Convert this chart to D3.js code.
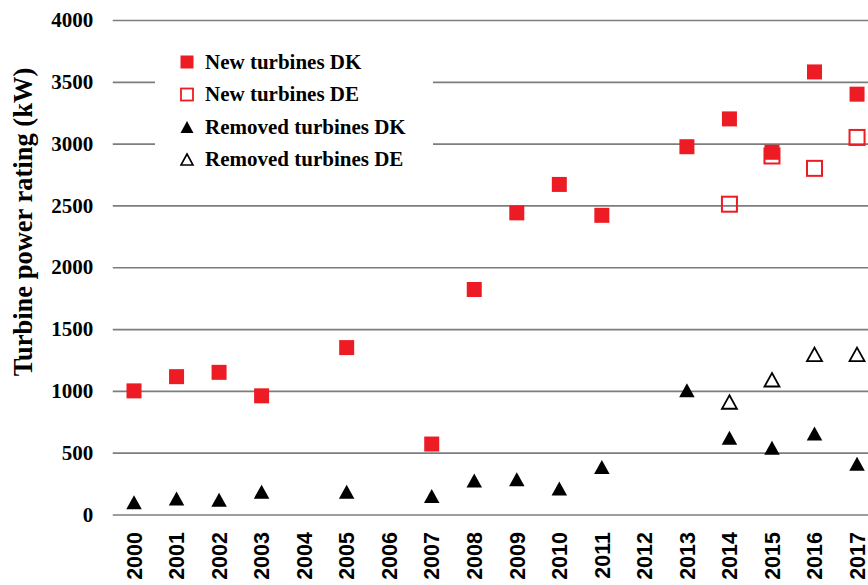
<!DOCTYPE html>
<html>
<head>
<meta charset="utf-8">
<script src="https://cdn.jsdelivr.net/npm/d3@7"></script>
<style>
  html, body { margin: 0; padding: 0; background: #fff; }
  svg { display: block; }
</style>
</head>
<body>
<svg id="chart" width="868" height="585"></svg>
<script>
// Turbine power ratings by year (kW); null = no turbines that year
const years = ["2000","2001","2002","2003","2004","2005","2006","2007","2008",
               "2009","2010","2011","2012","2013","2014","2015","2016","2017"];
const newDK     = [1000, 1115, 1150, 960, null, 1350, null, 570, 1820,
                   2440, 2670, 2420, null, 2975, 3200, 2930, 3580, 3400];
const newDE     = [null, null, null, null, null, null, null, null, null,
                   null, null, null, null, null, 2510, 2900, 2800, 3050];
const removedDK = [100, 130, 120, 185, null, 185, null, 150, 275,
                   285, 210, 385, null, 1005, 620, 540, 655, 410];
const removedDE = [null, null, null, null, null, null, null, null, null,
                   null, null, null, null, null, 910, 1090, 1295, 1295];
const yTicks = [0, 500, 1000, 1500, 2000, 2500, 3000, 3500, 4000];
const legendLabels = ["New turbines DK", "New turbines DE",
                      "Removed turbines DK", "Removed turbines DE"];

const RED = "#ED1C24";
const serif = "'Liberation Serif', 'Times New Roman', serif";
const sans = "'Liberation Sans', Arial, sans-serif";

const svg = d3.select("#chart");
const plotLeft = 112.75, plotRight = 878.3, plotTop = 20, plotBottom = 514.5;

const x = d3.scaleBand().domain(years).range([plotLeft, plotRight]).padding(0);
const y = d3.scaleLinear().domain([0, 4000]).range([plotBottom, plotTop]);
const cx = d => x(d) + x.bandwidth() / 2;

// Horizontal gridlines + y tick labels
const yAxis = svg.append("g")
  .attr("transform", `translate(${plotLeft},0)`)
  .call(d3.axisLeft(y).tickValues(yTicks).tickFormat(d3.format("d"))
        .tickSize(-(868 - plotLeft)).tickPadding(19.5));
yAxis.select(".domain").remove();
yAxis.selectAll(".tick line").attr("stroke", "#7d7d7d").attr("stroke-width", 1.7);
yAxis.selectAll(".tick text")
  .attr("font-family", serif).attr("font-weight", "bold")
  .attr("font-size", 21).attr("fill", "#000");

// Rotated year labels
svg.append("g").selectAll("text").data(years).join("text")
  .attr("transform", d => `translate(${cx(d)},532) rotate(-90)`)
  .attr("text-anchor", "end").attr("dy", "0.36em")
  .attr("font-family", sans).attr("font-weight", "bold").attr("font-size", 21.5)
  .attr("fill", "#000")
  .text(d => d);

// Y axis title
svg.append("text")
  .attr("transform", "translate(32,222) rotate(-90)")
  .attr("text-anchor", "middle")
  .attr("font-family", serif).attr("font-weight", "bold").attr("font-size", 26.5)
  .attr("fill", "#000")
  .text("Turbine power rating (kW)");

// Marker shapes
const SQ = 15;
const triPath = (w, h) => `M0,${-h/2}L${w/2},${h/2}L${-w/2},${h/2}Z`;

const pts = arr => years.map((yr, i) => ({ yr, v: arr[i] })).filter(d => d.v != null);

const marks = svg.append("g");

// New turbines DK: filled red squares
marks.append("g").selectAll("rect").data(pts(newDK)).join("rect")
  .attr("x", d => cx(d.yr) - SQ / 2).attr("y", d => y(d.v) - SQ / 2)
  .attr("width", SQ).attr("height", SQ).attr("fill", RED);

// New turbines DE: open red squares
marks.append("g").selectAll("rect").data(pts(newDE)).join("rect")
  .attr("x", d => cx(d.yr) - 7.5).attr("y", d => y(d.v) - 7.5)
  .attr("width", 15).attr("height", 15)
  .attr("fill", "none").attr("stroke", RED).attr("stroke-width", 2);

// Removed turbines DK: filled black triangles
marks.append("g").selectAll("path").data(pts(removedDK)).join("path")
  .attr("transform", d => `translate(${cx(d.yr)},${y(d.v)})`)
  .attr("d", triPath(15.5, 14)).attr("fill", "#000");

// Removed turbines DE: open black triangles
marks.append("g").selectAll("path").data(pts(removedDE)).join("path")
  .attr("transform", d => `translate(${cx(d.yr)},${y(d.v)})`)
  .attr("d", triPath(15, 13.5))
  .attr("fill", "#fff").attr("stroke", "#000").attr("stroke-width", 1.8)
  .attr("stroke-linejoin", "miter");

// Legend
const legend = svg.append("g");
legend.append("rect").attr("x", 155).attr("y", 36).attr("width", 278).attr("height", 146)
  .attr("fill", "#fff");
const rowY = [62, 94.5, 127, 159.5];
const lx = 187;
legend.append("rect").attr("x", lx - 6.5).attr("y", rowY[0] - 6.5)
  .attr("width", 13).attr("height", 13).attr("fill", RED);
legend.append("rect").attr("x", lx - 6).attr("y", rowY[1] - 6)
  .attr("width", 12).attr("height", 12)
  .attr("fill", "none").attr("stroke", RED).attr("stroke-width", 1.8);
legend.append("path").attr("transform", `translate(${lx},${rowY[2]})`)
  .attr("d", triPath(13, 12)).attr("fill", "#000");
legend.append("path").attr("transform", `translate(${lx},${rowY[3]})`)
  .attr("d", triPath(12, 11)).attr("fill", "none")
  .attr("stroke", "#000").attr("stroke-width", 1.6);
legend.selectAll("text.lbl").data(legendLabels).join("text")
  .attr("class", "lbl")
  .attr("x", 205).attr("y", (d, i) => rowY[i]).attr("dy", "0.33em")
  .attr("font-family", serif).attr("font-weight", "bold").attr("font-size", 21)
  .attr("fill", "#000")
  .text(d => d);
</script>
</body>
</html>
